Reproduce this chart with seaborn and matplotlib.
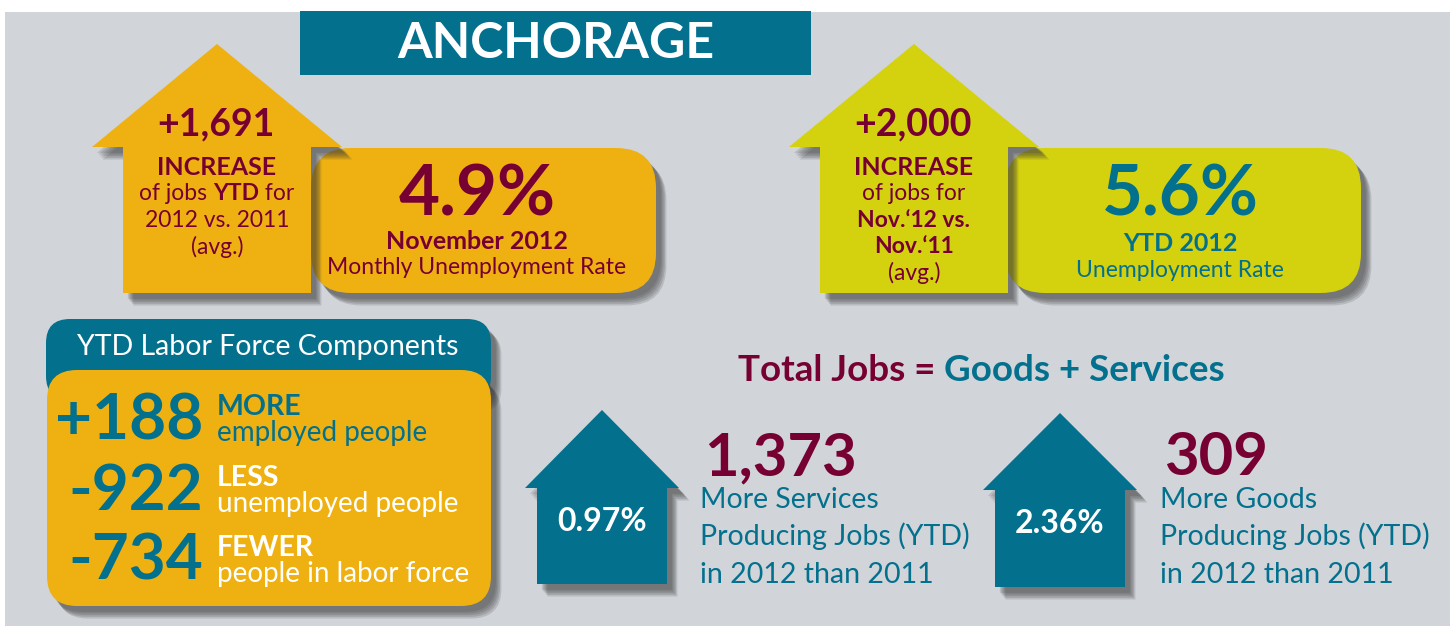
import matplotlib.pyplot as plt
import matplotlib.patches as mpatches
import matplotlib.patheffects as pe
import seaborn as sns

# ---------------------------
# Data (read off the infographic)
# ---------------------------
city = "ANCHORAGE"

job_gain = [1691, 2000]
job_gain_notes = [
    [[("INCREASE", "bold")],
     [("of jobs ", "normal"), ("YTD", "bold"), (" for", "normal")],
     [("2012 vs. 2011", "normal")],
     [("(avg.)", "normal")]],
    [[("INCREASE", "bold")],
     [("of jobs for", "normal")],
     [("Nov.\u201812 vs.", "bold")],
     [("Nov.\u201811", "bold")],
     [("(avg.)", "normal")]],
]

unemp_rate = [4.9, 5.6]
rate_title = ["November 2012", "YTD 2012"]
rate_subtitle = ["Monthly Unemployment Rate", "Unemployment Rate"]

lf_title = "YTD Labor Force Components"
lf_change = [188, -922, -734]
lf_word = ["MORE", "LESS", "FEWER"]
lf_desc = ["employed people", "unemployed people", "people in labor force"]

sector_name = ["Services", "Goods"]
sector_jobs = [1373, 309]
sector_pct = [0.97, 2.36]

# ---------------------------
# Colours
# ---------------------------
BG = "#D1D4D9"
TEAL = "#03708D"
ORANGE = "#EEB111"
LIME = "#D4D10F"
MAROON = "#770033"
WHITE = "#FFFFFF"

# ---------------------------
# Canvas (1 data unit = 1 pixel, y down)
# ---------------------------
sns.set_theme(style="white")
plt.rcParams['font.family'] = ['Lato', 'DejaVu Sans']

fig = plt.figure(figsize=(14.5, 6.26), dpi=100)
ax = fig.add_axes([0, 0, 1, 1])
ax.set_xlim(0, 1450)
ax.set_ylim(626, 0)
ax.axis('off')
renderer = fig.canvas.get_renderer()

shadow = [pe.SimplePatchShadow(offset=(o, -o * 1.2), shadow_rgbFace='#3a3a3a', alpha=0.17)
          for o in (3.5, 4.5, 5.5, 6.5, 7.5)] + [pe.Normal()]


def rbox(x0, y0, x1, y1, color, r, shade=True, z=2):
    p = mpatches.FancyBboxPatch((x0, y0), x1 - x0, y1 - y0,
                                boxstyle=f"round,pad=0,rounding_size={r}",
                                fc=color, ec='none', zorder=z)
    if shade:
        p.set_path_effects(shadow)
    ax.add_patch(p)


def up_arrow(cx, tip, head_half, base, shaft_half, bottom, color, z=3):
    pts = [(cx, tip), (cx + head_half, base), (cx + shaft_half, base),
           (cx + shaft_half, bottom), (cx - shaft_half, bottom),
           (cx - shaft_half, base), (cx - head_half, base)]
    p = mpatches.Polygon(pts, closed=True, fc=color, ec='none', zorder=z)
    p.set_path_effects(shadow)
    ax.add_patch(p)


def width(s, size, weight):
    def w(txt):
        t = ax.text(0, 0, txt, fontsize=size, fontweight=weight)
        v = t.get_window_extent(renderer).width
        t.remove()
        return v
    return w("x" + s + "x") - w("xx")


def line(x, y, parts, size, ha='center', z=5):
    # parts: list of (text, weight, colour)
    ws = [width(s, size, wt) for s, wt, c in parts]
    start = x - sum(ws) / 2 if ha == 'center' else x
    for (s, wt, c), wd in zip(parts, ws):
        ax.text(start, y, s, fontsize=size, fontweight=wt, color=c,
                ha='left', va='baseline', zorder=z)
        start += wd


def txt(x, y, s, size, color, weight='normal', ha='center', z=5):
    ax.text(x, y, s, fontsize=size, fontweight=weight, color=color,
            ha=ha, va='baseline', zorder=z)


# background panel
ax.add_patch(mpatches.Rectangle((5, 12), 1445, 614, fc=BG, ec='none', zorder=0))

# title
ax.add_patch(mpatches.Rectangle((300, 11), 511, 64, fc=TEAL, ec='none', zorder=1))
txt(556, 58, city, 36, WHITE, 'bold')

# ---------------------------
# Top: job increase arrows + unemployment rate boxes
# ---------------------------
arrow_cx = [217, 914]
box_x = [(311, 656), (1005, 1361)]
rate_cx = [477, 1180]
fills = [ORANGE, LIME]
rate_col = [MAROON, TEAL]
note_base = [[175, 200, 227, 254], [175, 200, 227, 253, 280]]

for i in range(2):
    rbox(box_x[i][0], 148, box_x[i][1], 293, fills[i], 40, z=2)
    up_arrow(arrow_cx[i], 44, 125, 147, 94, 293, fills[i], z=3)
    txt(arrow_cx[i] - 1, 135, f"{job_gain[i]:+,}", 27, MAROON, 'bold')
    for yb, parts in zip(note_base[i], job_gain_notes[i]):
        size = 18 if parts[0][0] == "INCREASE" else 16.5
        line(arrow_cx[i], yb, [(s, w, MAROON) for s, w in parts], size)
    txt(rate_cx[i], 215, f"{unemp_rate[i]:.1f}%", 51, rate_col[i], 'bold')
    txt(rate_cx[i], 249 + 2 * i, rate_title[i], 18, rate_col[i], 'bold')
    txt(rate_cx[i], 274 + 3 * i, rate_subtitle[i], 16.5, rate_col[i])

# ---------------------------
# Bottom left: labor force components
# ---------------------------
rbox(46, 319, 491, 400, TEAL, 24, z=2)
rbox(47, 370, 491, 606, ORANGE, 30, z=3)
txt(268, 355, lf_title, 20.5, WHITE)

lf_base = [439, 510, 580]
lf_col = [TEAL, WHITE, WHITE]
for v, wd, d, yb, c in zip(lf_change, lf_word, lf_desc, lf_base, lf_col):
    txt(203, yb, f"{v:+,}" if v > 0 else f"{v:,}", 46, TEAL, 'bold', ha='right')
    txt(217, yb - 24, wd, 20.5, c, 'bold', ha='left')
    txt(217, yb + 2, d, 20, c, ha='left')

# ---------------------------
# Bottom right: goods + services
# ---------------------------
line(981, 381, [("Total Jobs = ", "bold", MAROON), ("Goods + Services", "bold", TEAL)], 26.5)

sec_arrow = [(602, 410, 488, 584), (1060, 413, 490, 587)]
sec_text_x = [700, 1160]
for i in range(2):
    cx, tip, base, bottom = sec_arrow[i]
    up_arrow(cx, tip, 77, base, 65, bottom, TEAL, z=3)
    txt(cx, base + 43, f"{sector_pct[i]:.2f}%", 23, WHITE, 'bold')
    txt(sec_text_x[i] + 4, 475, f"{sector_jobs[i]:,}", 43, MAROON, 'bold', ha='left')
    txt(sec_text_x[i], 508, f"More {sector_name[i]}", 20.5, TEAL, ha='left')
    txt(sec_text_x[i], 545, "Producing Jobs (YTD)", 20.5, TEAL, ha='left')
    txt(sec_text_x[i], 583, "in 2012 than 2011", 20.5, TEAL, ha='left')

fig.savefig("out.png", dpi=100)
plt.close(fig)
